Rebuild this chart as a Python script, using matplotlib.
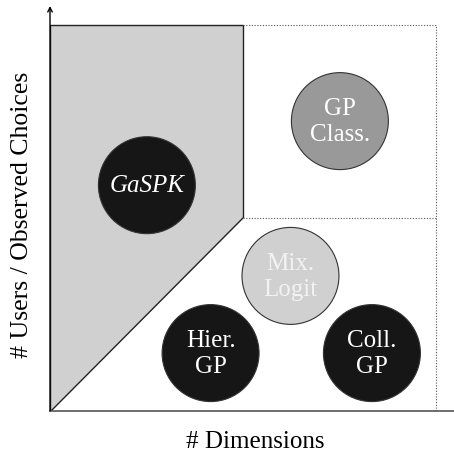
import matplotlib
matplotlib.use("Agg")
import matplotlib.pyplot as plt
from matplotlib.patches import Circle, Polygon

plt.rcParams['font.family'] = ['Liberation Serif', 'DejaVu Serif']

# --- data ---
labels = ["GaSPK", "GP\nClass.", "Mix.\nLogit", "Hier.\nGP", "Coll.\nGP"]
cx = [2.51, 7.51, 6.23, 4.16, 8.34]
cy = [5.85, 7.51, 3.50, 1.50, 1.50]
radius = 1.256
fills = ["#161616", "#999999", "#cfd0cf", "#161616", "#161616"]
text_colors = ["white", "white", "#f2f2f2", "white", "white"]
italic = [True, False, False, False, False]

region_x = [0, 0, 5.0, 5.0]
region_y = [0, 10, 10, 5.03]
box_max = 10.0
split_y = 5.0

fig = plt.figure(figsize=(4.54, 4.56), dpi=100)
ax = fig.add_axes([50/454, 44/456, 404/454, 405/456])
ax.set_xlim(0, 404/38.6)
ax.set_ylim(0, 405/38.6)

# shaded region
ax.add_patch(Polygon(list(zip(region_x, region_y)), closed=True,
                     facecolor="#cfd0cf", edgecolor="#222222", lw=1.0, zorder=1))
# dotted box
ax.plot([region_x[2], box_max, box_max], [box_max, box_max, 0],
        ls=(0, (1, 1.5)), color="#555555", lw=0.8, zorder=1)
ax.plot([region_x[2], box_max], [split_y, split_y],
        ls=(0, (1, 1.5)), color="#555555", lw=0.8, zorder=1)

for x, y, lab, fc, tc, it in zip(cx, cy, labels, fills, text_colors, italic):
    ax.add_patch(Circle((x, y), radius, facecolor=fc, edgecolor="#333333",
                        lw=0.8, zorder=3))
    ax.text(x, y, lab, ha="center", va="center", color=tc, fontsize=18,
            style="italic" if it else "normal", linespacing=1.2, zorder=4)

for s in ["top", "right"]:
    ax.spines[s].set_visible(False)
ax.spines["left"].set_visible(False)
ax.spines["bottom"].set_color("#555555")
ax.spines["bottom"].set_linewidth(1.2)
ax.set_xticks([])
ax.set_yticks([])

# y-axis arrow
ax.annotate("", xy=(0, 405/38.6), xytext=(0, 0),
            arrowprops=dict(arrowstyle="->", color="black", lw=1.0,
                            shrinkA=0, shrinkB=0, mutation_scale=8),
            annotation_clip=False, zorder=5)

fig.text(255/454, 1 - 442/456, "# Dimensions", ha="center", va="center", fontsize=18)
fig.text(22/454, 1 - 215/456, "# Users / Observed Choices", ha="center", va="center",
         fontsize=18.5, rotation=90)

fig.savefig("out.png", dpi=100)
